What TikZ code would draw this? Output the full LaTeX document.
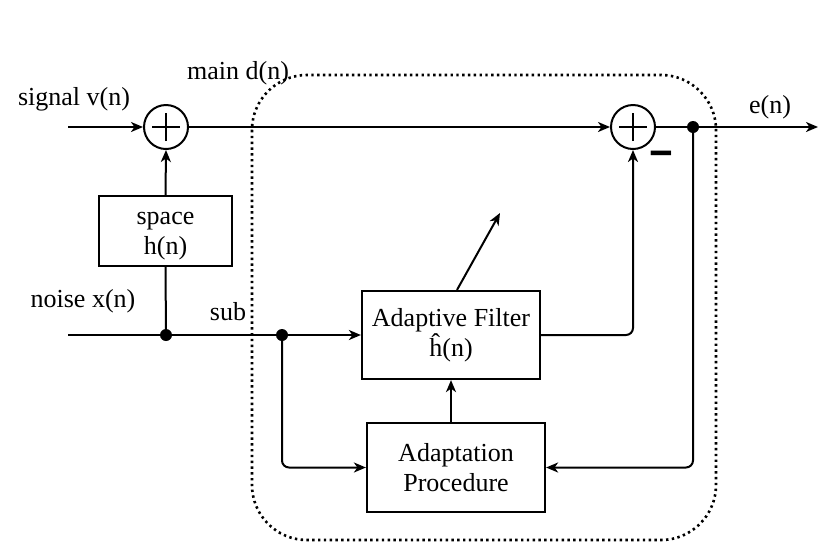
\documentclass[tikz,border=0pt]{standalone}
\usepackage{fontspec}
\setmainfont{Liberation Serif}
\usetikzlibrary{arrows.meta,calc}
\begin{document}
\begin{tikzpicture}[x=1pt,y=-1pt, line width=2pt,
  >={Stealth[length=12pt,width=10pt,inset=3.5pt]},
  font=\rmfamily\fontsize{26}{30}\selectfont,
  blk/.style={draw, rectangle, inner sep=0pt, align=center, line width=2.2pt},
  sumnode/.style={draw, circle, minimum size=44pt, inner sep=0pt},
  dotn/.style={circle, fill, inner sep=0pt, minimum size=12pt},
  lbl/.style={inner sep=0pt}]
\useasboundingbox (0,0) rectangle (834,558);
\fill[white] (0,0) rectangle (834,558);

% dotted region
\draw[line width=2.6pt, dash pattern=on 2.4pt off 3.4pt, rounded corners=55pt] (252,75) rectangle (716,540);

% summing junctions
\node[sumnode] (s1) at (166,127) {};
\node[sumnode] (s2) at (633,127) {};
\foreach \s in {s1,s2} {
  \draw[line width=1.5pt] ([xshift=-14pt]\s.center) -- ([xshift=14pt]\s.center);
  \draw[line width=1.5pt] ([yshift=-14pt]\s.center) -- ([yshift=14pt]\s.center);
}

% blocks
\node[blk, minimum width=133pt, minimum height=70pt] (sp) at (165.5,231) {};
\node[lbl, align=center] (sptxt) at (165.5,236) {space\\h(n)};
\node[blk, minimum width=178pt, minimum height=88pt] (af) at (451,335) {Adaptive Filter\\\^{h}(n)};
\node[blk, minimum width=178pt, minimum height=89pt] (ap) at (456,467.5) {Adaptation\\Procedure};

% junction dots and free ends
\node[dotn] (d1) at (166,335) {};
\node[dotn] (d2) at (282,335) {};
\node[dotn] (d3) at (693,127) {};
\coordinate (vin) at (68,127);
\coordinate (xin) at (68,335);
\coordinate (eout) at (818,127);
\coordinate (tipA) at (500,213);

% connectors
\draw[->] (vin) -- (s1.west);
\draw[->] (s1.east) -- (s2.west);
\draw[->] (s2.east) -- (eout);
\draw (xin) -- (d1.center) -- (d2.center);
\draw (d1.center) -- (sp.south);
\draw[->] (sp.north) -- (s1.south);
\draw[->] (d2.center) -- (af.west);
\draw[->, rounded corners=7pt] (af.east) -| (s2.south);
\draw[->] (ap.north -| af.south) -- (af.south);
\draw[->, rounded corners=7pt] (d2.center) |- (ap.west);
\draw[->, rounded corners=7pt] (d3.center) |- (ap.east);
\draw[->] ([xshift=6pt]af.north) -- (tipA);

% labels
\node[lbl] (lv) at (74,99) {signal v(n)};
\node[lbl] (lm) at (238,73) {main d(n)};
\node[lbl] (lx) at (83,301) {noise x(n)};
\node[lbl] (ls) at (228,312) {sub};
\node[lbl] (le) at (770,107) {e(n)};
\node[lbl, font=\fontsize{36}{36}\selectfont\bfseries] (lminus) at (661,160) {\scalebox{1.1}[1.8]{–}};
\end{tikzpicture}
\end{document}
